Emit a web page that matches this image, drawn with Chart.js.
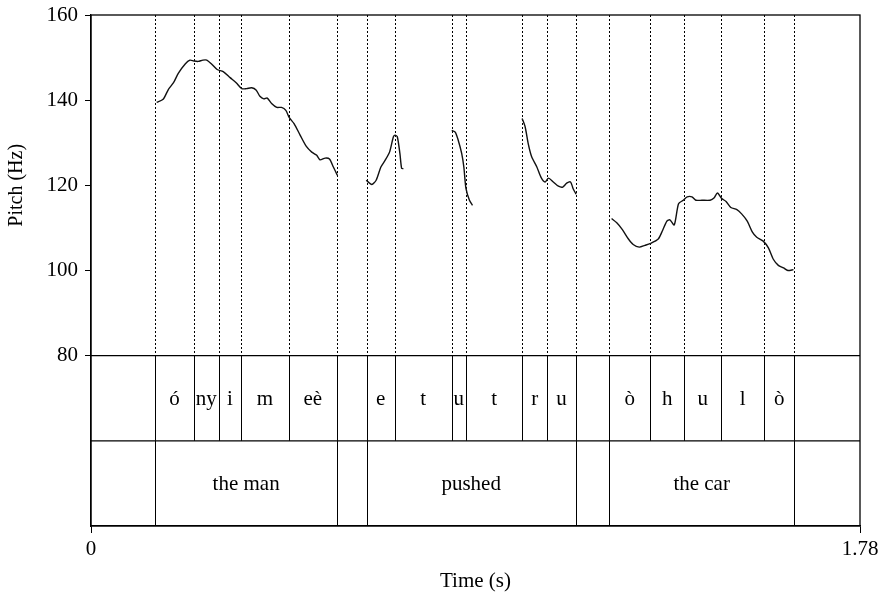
<!DOCTYPE html>
<html>
<head>
<meta charset="utf-8">
<script src="https://cdn.jsdelivr.net/npm/chart.js@4.4.0/dist/chart.umd.min.js"></script>
<style>
  html, body { margin: 0; padding: 0; background: #fff; }
</style>
</head>
<body>
<canvas id="pitchChart" width="886" height="601"></canvas>
<script>
// pitch contour (time in s, pitch in Hz)
const seg1Time = [0.152,0.167,0.179,0.191,0.202,0.218,0.229,0.238,0.248,0.259,0.268,0.279,0.292,0.306,0.322,0.336,0.349,0.360,0.372,0.382,0.391,0.400,0.408,0.418,0.430,0.441,0.451,0.459,0.470,0.484,0.498,0.511,0.522,0.530,0.542,0.552,0.561,0.570];
const seg1Hz   = [139.5,140.2,142.5,144.1,146.3,148.5,149.4,149.2,149.1,149.4,149.4,148.5,147.2,146.7,145.3,144.1,142.7,142.7,142.9,142.4,140.9,140.3,140.5,139.2,138.3,138.3,137.6,135.9,134.5,131.8,129.2,127.8,127.1,126.0,126.4,126.2,124.3,122.4];

const seg2Time = [0.637,0.650,0.660,0.671,0.681,0.691,0.700,0.704,0.709,0.715,0.719,0.723];
const seg2Hz   = [121.2,120.2,121.2,124.3,125.9,127.8,131.4,131.8,131.4,127.5,124.0,123.9];

const seg3Time = [0.835,0.843,0.850,0.858,0.863,0.868,0.876,0.883];
const seg3Hz   = [132.9,132.5,130.6,127.5,124.3,119.2,116.5,115.3];

const seg4Time = [0.998,1.005,1.012,1.020,1.032,1.042,1.051,1.059,1.070,1.082,1.092,1.101,1.110,1.116,1.123];
const seg4Hz   = [135.7,133.7,129.8,126.7,124.3,121.8,120.8,121.7,120.8,119.8,119.6,120.5,120.8,119.2,117.9];

const seg5Time = [1.205,1.217,1.230,1.244,1.255,1.269,1.282,1.294,1.313,1.323,1.333,1.340,1.350,1.360,1.371,1.380,1.391,1.400,1.414,1.433,1.442,1.450,1.460,1.470,1.481,1.495,1.506,1.519,1.531,1.541,1.556,1.568,1.579,1.591,1.603,1.613,1.626];
const seg5Hz   = [112.2,111.2,109.6,107.4,106.1,105.5,105.9,106.3,107.4,109.4,111.6,111.9,110.7,115.7,116.5,117.3,117.3,116.5,116.5,116.5,117.0,118.2,116.9,116.2,114.8,114.3,113.3,111.6,109.0,107.8,106.9,105.3,102.7,101.2,100.6,100.0,100.2];

// annotation tiers
const phoneBounds = [0,0.149,0.238,0.296,0.347,0.458,0.569,0.638,0.703,0.835,0.868,0.998,1.056,1.122,1.199,1.295,1.373,1.459,1.558,1.628,1.78];
const phoneLabels = ['','ó','ny','i','m','eè','','e','t','u','t','r','u','','ò','h','u','l','ò',''];
const wordBounds  = [0,0.149,0.569,0.638,1.122,1.199,1.628,1.78];
const wordLabels  = ['','the man','','pushed','','the car',''];

const yTicks = [80,100,120,140,160];
const xTicks = [0,1.78];

const FONT = '"Liberation Serif", "DejaVu Serif", serif';

function toPoints(ts, hz) {
  return ts.map((t, i) => ({ x: t, y: hz[i] }));
}

const segments = [[seg1Time,seg1Hz],[seg2Time,seg2Hz],[seg3Time,seg3Hz],[seg4Time,seg4Hz],[seg5Time,seg5Hz]];

// dotted boundary lines behind the curve, tiers + frame on top
const tierPlugin = {
  id: 'tiers',
  beforeDatasetsDraw(chart) {
    const { ctx, scales: { x, y } } = chart;
    const top = chart.chartArea.top, y80 = y.getPixelForValue(80);
    ctx.save();
    ctx.strokeStyle = '#000';
    ctx.lineWidth = 1;
    ctx.setLineDash([2, 2]);
    phoneBounds.slice(1, -1).forEach(b => {
      const px = Math.round(x.getPixelForValue(b)) + 0.5;
      ctx.beginPath(); ctx.moveTo(px, top); ctx.lineTo(px, y80); ctx.stroke();
    });
    ctx.restore();
  },
  afterDatasetsDraw(chart) {
    const { ctx, chartArea: a, scales: { x, y } } = chart;
    const y80 = y.getPixelForValue(80), y60 = y.getPixelForValue(60), y40 = y.getPixelForValue(40);
    ctx.save();
    ctx.strokeStyle = '#000';
    ctx.fillStyle = '#000';
    ctx.lineWidth = 1.3;
    ctx.strokeRect(a.left, a.top, a.right - a.left, a.bottom - a.top);
    [y80, y60].forEach(py => {
      ctx.beginPath(); ctx.moveTo(a.left, py); ctx.lineTo(a.right, py); ctx.stroke();
    });
    ctx.lineWidth = 1;
    ctx.font = '21px ' + FONT;
    ctx.textAlign = 'center';
    ctx.textBaseline = 'middle';
    function drawTier(bounds, labels, y0, y1) {
      bounds.slice(1, -1).forEach(b => {
        const px = Math.round(x.getPixelForValue(b)) + 0.5;
        ctx.beginPath(); ctx.moveTo(px, y0); ctx.lineTo(px, y1); ctx.stroke();
      });
      labels.forEach((lab, i) => {
        if (!lab) return;
        const cx = (x.getPixelForValue(bounds[i]) + x.getPixelForValue(bounds[i + 1])) / 2;
        ctx.fillText(lab, cx, (y0 + y1) / 2 + 1);
      });
    }
    drawTier(phoneBounds, phoneLabels, y80, y60);
    drawTier(wordBounds, wordLabels, y60, y40);

    // axis titles
    ctx.fillText('Time (s)', (a.left + a.right) / 2, 581);
    ctx.font = '20px ' + FONT;
    ctx.translate(17, (a.top + y80) / 2);
    ctx.rotate(-Math.PI / 2);
    ctx.fillText('Pitch (Hz)', 0, 0);
    ctx.restore();
  }
};

new Chart(document.getElementById('pitchChart'), {
  type: 'line',
  data: {
    datasets: segments.map(([ts, hz]) => ({
      data: toPoints(ts, hz),
      borderColor: '#111',
      borderWidth: 1.4,
      pointRadius: 0,
      tension: 0.25,
      fill: false
    }))
  },
  options: {
    responsive: false,
    animation: false,
    layout: { padding: { top: 15, right: 26, left: 0, bottom: 0 } },
    plugins: { legend: { display: false }, tooltip: { enabled: false } },
    scales: {
      x: {
        type: 'linear',
        min: 0,
        max: 1.78,
        afterBuildTicks: axis => { axis.ticks = xTicks.map(v => ({ value: v })); },
        afterFit: scale => {
          scale.height = 75;
          scale.paddingLeft = 0;
          scale.paddingRight = 0;
        },
        ticks: {
          color: '#000',
          font: { family: FONT, size: 21 },
          padding: 4,
          maxRotation: 0,
          callback: v => v === 0 ? '0' : v.toFixed(2)
        },
        grid: { drawOnChartArea: false, drawTicks: true, tickLength: 7, color: '#000' },
        border: { display: true, color: '#000', width: 1.3 }
      },
      y: {
        type: 'linear',
        min: 40,
        max: 160,
        afterBuildTicks: axis => { axis.ticks = yTicks.map(v => ({ value: v })); },
        afterFit: scale => {
          scale.width = 91;
          scale.paddingTop = 0;
          scale.paddingBottom = 0;
        },
        ticks: {
          color: '#000',
          font: { family: FONT, size: 21 },
          padding: 7
        },
        grid: { drawOnChartArea: false, drawTicks: true, tickLength: 6, color: '#000' },
        border: { display: true, color: '#000', width: 1.3 }
      }
    }
  },
  plugins: [tierPlugin]
});
</script>
</body>
</html>
